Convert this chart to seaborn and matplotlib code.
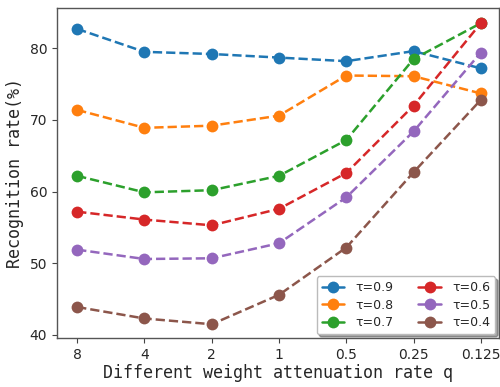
import matplotlib
matplotlib.use("Agg")
import matplotlib.pyplot as plt
import seaborn as sns
import pandas as pd
from matplotlib.lines import Line2D

q_labels = ["8", "4", "2", "1", "0.5", "0.25", "0.125"]
tau_labels = ["τ=0.9", "τ=0.8", "τ=0.7", "τ=0.6", "τ=0.5", "τ=0.4"]
tau_09 = [82.7, 79.5, 79.2, 78.7, 78.2, 79.6, 77.2]
tau_08 = [71.4, 68.9, 69.2, 70.6, 76.2, 76.1, 73.7]
tau_07 = [62.2, 59.9, 60.2, 62.2, 67.2, 78.5, 83.5]
tau_06 = [57.2, 56.1, 55.3, 57.6, 62.6, 72.0, 83.5]
tau_05 = [51.9, 50.6, 50.7, 52.8, 59.2, 68.4, 79.4]
tau_04 = [43.9, 42.3, 41.5, 45.6, 52.2, 62.7, 72.8]
series = [tau_09, tau_08, tau_07, tau_06, tau_05, tau_04]

rows = []
for lab, vals in zip(tau_labels, series):
    for q, v in zip(q_labels, vals):
        rows.append({"q": q, "rate": v, "tau": lab})
df = pd.DataFrame(rows)

sns.set_style("ticks")
palette = sns.color_palette("tab10", 6)

fig = plt.figure(figsize=(5.0, 3.87), dpi=100)
ax = fig.add_axes([0.114, 0.127, 0.884, 0.852])

sns.lineplot(data=df, x="q", y="rate", hue="tau", hue_order=tau_labels,
             palette=palette, marker="o", markersize=8.5, markeredgewidth=0,
             linestyle="--", linewidth=1.8, sort=False, legend=False, ax=ax)

ax.set_xlim(-0.3, 6.27)
ax.set_ylim(39.6, 85.6)
ax.set_yticks([40, 50, 60, 70, 80])
ax.tick_params(labelsize=10, length=3.5, width=0.8, color="#444444")
for s in ax.spines.values():
    s.set_color("#555555")
    s.set_linewidth(1.0)

ax.set_xlabel("Different weight attenuation rate q", fontsize=12,
              family="DejaVu Sans Mono", labelpad=2)
ax.set_ylabel("Recognition rate(%)", fontsize=12,
              family="DejaVu Sans Mono", labelpad=4)

handles = [Line2D([0], [0], color=c, marker="o", markersize=8.5,
                  markeredgewidth=0, linewidth=1.8) for c in palette]
leg = ax.legend(handles, tau_labels, ncol=2, loc="lower right", fontsize=9,
                frameon=True, fancybox=True, shadow=True, columnspacing=2.0,
                handlelength=1.8, handletextpad=0.9, labelspacing=0.35,
                borderaxespad=0.3)
leg.get_frame().set_edgecolor("#bbbbbb")

fig.savefig("out.png", dpi=100)
